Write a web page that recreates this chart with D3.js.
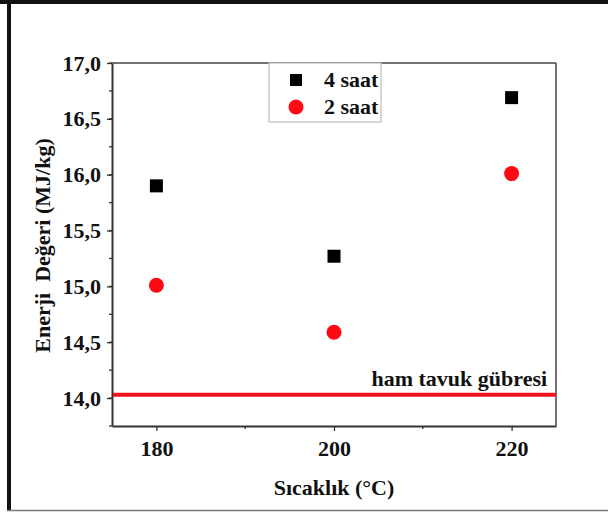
<!DOCTYPE html>
<html>
<head>
<meta charset="utf-8">
<script src="https://cdn.jsdelivr.net/npm/d3@7"></script>
<style>
  html, body { margin: 0; padding: 0; background: #fff; }
  svg { display: block; }
  svg text { font-family: "Liberation Serif", "Times New Roman", serif !important; font-weight: 700 !important; fill: #111; }
</style>
</head>
<body>
<svg id="chart" width="608" height="513"></svg>
<script>
// Temperatures (°C) and energy values (MJ/kg) for each residence time
const temperatures = [180, 200, 220];
const energy4h = [15.90, 15.27, 16.69];
const energy2h = [15.01, 14.59, 16.01];
const rawManure = 14.03;
const xTicks = [180, 200, 220];
const yTicks = [14.0, 14.5, 15.0, 15.5, 16.0, 16.5, 17.0];
const seriesNames = ["4 saat", "2 saat"];

const svg = d3.select("#chart");
const W = 608, H = 513;
const m = { left: 112, right: 52, top: 63, bottom: 87 };
const FS = 22;

// outer frame
svg.append("rect").attr("x", 0).attr("y", 0).attr("width", W).attr("height", 4).attr("fill", "#111");
svg.append("rect").attr("x", 7).attr("y", 0).attr("width", 4).attr("height", 511).attr("fill", "#111");
svg.append("line").attr("x1", 7).attr("x2", W).attr("y1", 510.5).attr("y2", 510.5)
  .attr("stroke", "#777").attr("stroke-width", 1.5);

const x = d3.scaleLinear().domain([175, 225]).range([m.left, W - m.right]);
const y = d3.scaleLinear().domain([13.75, 17.0]).range([H - m.bottom, m.top]);

const fmt = d => d3.format(".1f")(d).replace(".", ",");

// minor ticks
const gMinor = svg.append("g");
d3.range(13.75, 17.01, 0.25).forEach(v => {
  gMinor.append("line").attr("x1", m.left - 3).attr("x2", m.left)
    .attr("y1", y(v)).attr("y2", y(v)).attr("stroke", "#333").attr("stroke-width", 1.3);
});
[190, 210].forEach(v => {
  gMinor.append("line").attr("x1", x(v)).attr("x2", x(v))
    .attr("y1", H - m.bottom).attr("y2", H - m.bottom + 3).attr("stroke", "#333").attr("stroke-width", 1.3);
});

// axes
const xAxis = svg.append("g").attr("transform", `translate(0,${H - m.bottom})`)
  .call(d3.axisBottom(x).tickValues(xTicks).tickSize(5).tickPadding(9).tickSizeOuter(0));
const yAxis = svg.append("g").attr("transform", `translate(${m.left},0)`)
  .call(d3.axisLeft(y).tickValues(yTicks).tickFormat(fmt).tickSize(5).tickPadding(6).tickSizeOuter(0));
[xAxis, yAxis].forEach(g => {
  g.select(".domain").attr("stroke", "#333").attr("stroke-width", 2);
  g.selectAll(".tick line").attr("stroke", "#333").attr("stroke-width", 1.3);
  g.selectAll(".tick text").style("font-size", FS + "px");
});

// top and right frame of plot area
svg.append("line").attr("x1", m.left).attr("x2", W - m.right).attr("y1", m.top).attr("y2", m.top)
  .attr("stroke", "#444").attr("stroke-width", 1.5);
svg.append("line").attr("x1", W - m.right).attr("x2", W - m.right).attr("y1", m.top).attr("y2", H - m.bottom)
  .attr("stroke", "#444").attr("stroke-width", 1.5);

// raw manure reference line
svg.append("line").attr("x1", m.left + 1).attr("x2", W - m.right)
  .attr("y1", y(rawManure)).attr("y2", y(rawManure))
  .attr("stroke", "#f0141e").attr("stroke-width", 4);
svg.append("text").attr("x", x(224)).attr("y", y(rawManure) - 9)
  .attr("text-anchor", "end").style("font-size", FS + "px").text("ham tavuk gübresi");

// data points
const sq = 13;
svg.append("g").selectAll("rect").data(temperatures).join("rect")
  .attr("x", (d) => x(d) - sq / 2)
  .attr("y", (d, i) => y(energy4h[i]) - sq / 2)
  .attr("width", sq).attr("height", sq).attr("fill", "#000");
svg.append("g").selectAll("circle").data(temperatures).join("circle")
  .attr("cx", (d) => x(d))
  .attr("cy", (d, i) => y(energy2h[i]))
  .attr("r", 7.5).attr("fill", "#ff0a14");

// legend
const lg = svg.append("g");
lg.append("rect").attr("x", 269).attr("y", m.top).attr("width", 112).attr("height", 59)
  .attr("fill", "#fff").attr("stroke", "#bbb").attr("stroke-width", 1.2);
lg.append("rect").attr("x", 296 - 6).attr("y", 80 - 6).attr("width", 12).attr("height", 12).attr("fill", "#000");
lg.append("circle").attr("cx", 296).attr("cy", 107).attr("r", 7.5).attr("fill", "#ff0a14");
lg.append("text").attr("x", 324).attr("y", 87).style("font-size", FS + "px").text(seriesNames[0]);
lg.append("text").attr("x", 324).attr("y", 114).style("font-size", FS + "px").text(seriesNames[1]);

// axis titles
svg.append("text").attr("x", x(200)).attr("y", 495).attr("text-anchor", "middle")
  .style("font-size", FS + "px").text("Sıcaklık (°C)");
svg.append("text").attr("transform", `translate(50,${(m.top + H - m.bottom) / 2 + 1}) rotate(-90)`)
  .attr("text-anchor", "middle").style("font-size", FS + "px").style("white-space", "pre")
  .text("Enerji  Değeri (MJ/kg)");
</script>
</body>
</html>
